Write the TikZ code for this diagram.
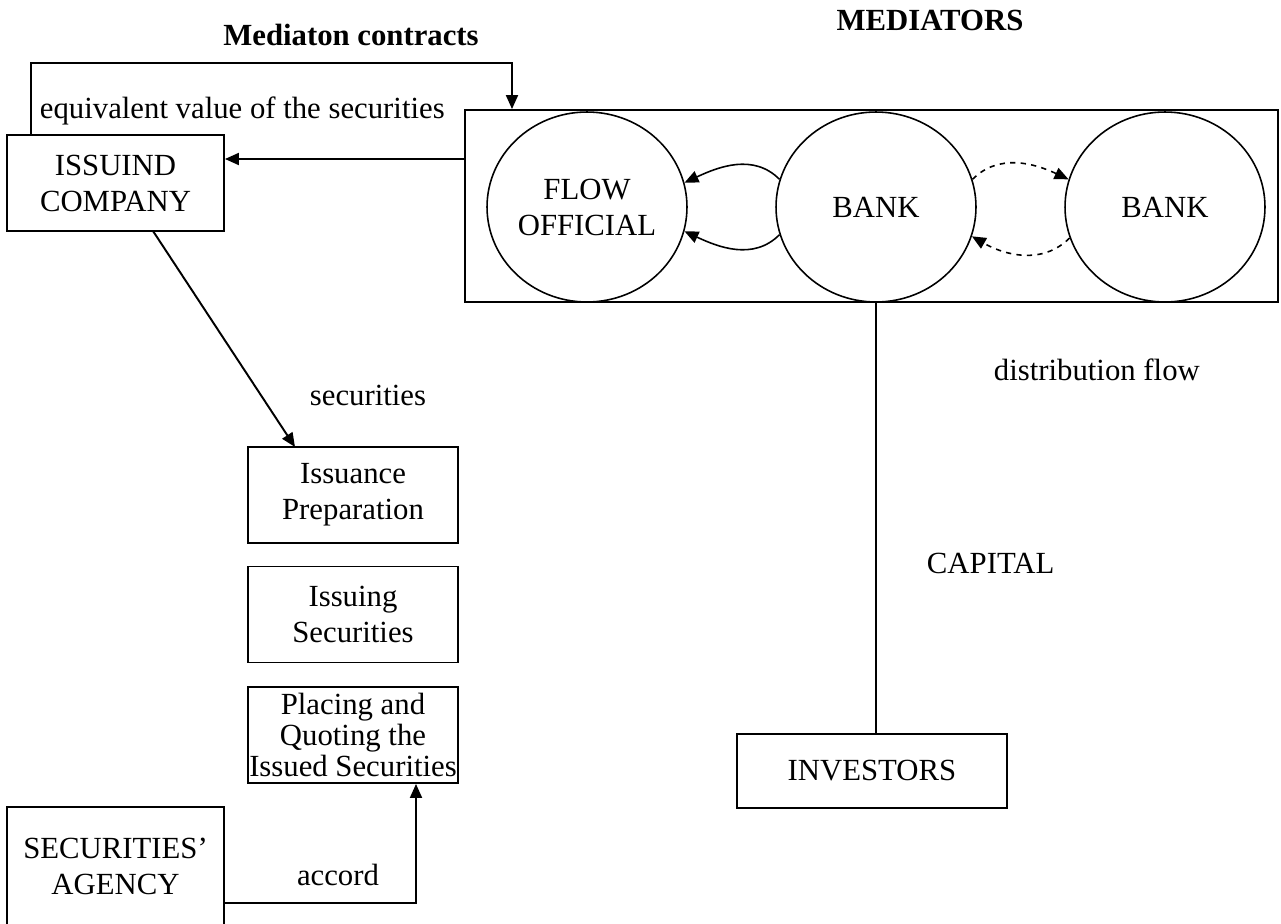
\documentclass[tikz,border=0pt]{standalone}
\usepackage{fontspec}
\setmainfont{Liberation Serif}
\usetikzlibrary{arrows.meta, positioning, calc, shapes.geometric}

\begin{document}
\begin{tikzpicture}[x=0.02cm, y=-0.02cm, line width=1.1pt,
  >={Triangle[length=0.28cm, width=0.24cm]},
  every node/.style={font=\fontsize{17.5}{20.5}\selectfont},
  box/.style={draw, rectangle, align=center, inner sep=0pt},
  stagebox/.style={box, minimum width=4.2cm, minimum height=1.92cm},
  bankcircle/.style={draw, ellipse, align=center, inner sep=0pt, minimum width=4cm, minimum height=3.8cm, line width=0.9pt},
  lbl/.style={inner sep=0pt}]

\useasboundingbox (0,0) rectangle (1281,923);

% Titles
\node[lbl, anchor=base, font=\fontsize{17.5}{20.5}\selectfont\bfseries] (contracts) at (351,45) {Mediaton contracts};
\node[lbl, font=\fontsize{17.5}{20.5}\selectfont\bfseries] (mediatorstitle) at (930,20) {MEDIATORS};

% Mediators
\node[box, minimum width=16.26cm, minimum height=3.84cm] (mediators) at (871.5,206) {};
\node[bankcircle] (flow) at (587,207) {FLOW\\OFFICIAL};
\node[bankcircle] (bank) at (876,207) {BANK};
\node[bankcircle] (bankb) at (1165,207) {BANK};

% Flows between the mediators
\draw[->, line width=0.9pt] (bank.164) to[out=135, in=25] (flow.14);
\draw[->, line width=0.9pt] (bank.196) to[out=-135, in=-25] (flow.346);
\draw[->, dashed, line width=0.9pt] (bank.16) to[out=45, in=155] (bankb.164);
\draw[->, dashed, line width=0.9pt] (bankb.198) to[out=-135, in=-30] (bank.343);

% Issuer side
\node[box, minimum width=4.34cm, minimum height=1.92cm] (company) at (115.5,183) {ISSUIND\\COMPANY};
\node[stagebox] (prep) at (353,495) {Issuance\\Preparation};
\node[stagebox] (issuing) at (353,614.5) {Issuing\\Securities};
\node[stagebox, font=\fontsize{17.5}{17.5}\selectfont] (placing) at (353,735) {Placing and\\Quoting the\\Issued Securities};
\node[box, minimum width=4.34cm, minimum height=2.36cm] (agency) at (115.5,866) {SECURITIES'\\AGENCY};
\node[box, minimum width=5.4cm, minimum height=1.48cm] (investors) at (872,771) {INVESTORS};

% Mediation contracts loop
\coordinate (loop) at (512,63);
\draw[->] ([xshift=0.5cm]company.north west) |- (loop) -- (loop |- mediators.north);
\node[lbl, anchor=base west] (equiv) at (39,118) {equivalent value of the securities};
\coordinate (back) at (0,159);
\draw[->] (mediators.west |- back) -- (company.east |- back);

% Securities
\coordinate (start) at (153,231);
\coordinate (tip) at (295,447);
\draw[->] (start) -- (tip);
\node[lbl, anchor=base] (securities) at (368,405) {securities};

% Accord
\coordinate (accord) at (416,903);
\draw[->] (agency.east |- accord) -- (accord) -- (accord |- placing.south);
\node[lbl, anchor=base] (accordlbl) at (338,885) {accord};

% Capital
\draw (bank.south) -- (bank.south |- investors.north);
\node[lbl, anchor=base west] (distribution) at (993,380) {distribution flow};
\node[lbl, anchor=base west] (capital) at (926,573) {CAPITAL};

\end{tikzpicture}
\end{document}
